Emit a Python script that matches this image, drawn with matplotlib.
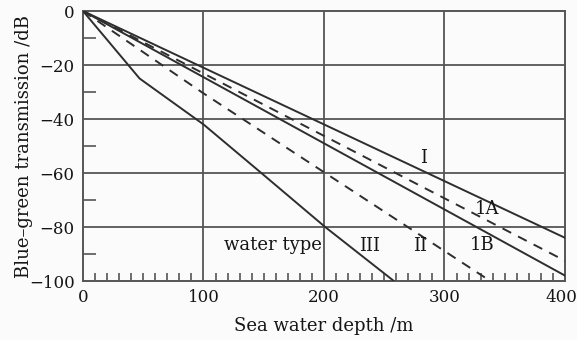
import matplotlib
matplotlib.use("Agg")
import matplotlib.pyplot as plt
import matplotlib.transforms as mtransforms
import numpy as np

# Data
depth_I = [0, 400]
db_I = [0, -84]
depth_1A = [0, 400]
db_1A = [0, -92.5]
depth_1B = [0, 400]
db_1B = [0, -98]
depth_II = [0, 100, 338]
db_II = [0, -30.5, -100]
depth_III = [0, 47, 100, 148, 201, 258]
db_III = [0, -25, -42, -60, -80, -100]

x_ticks = [0, 100, 200, 300, 400]
y_ticks = [0, -20, -40, -60, -80, -100]

labels = ["I", "1A", "1B", "II", "III", "water type"]
label_x = [283, 335, 331, 280, 238, 158]
label_y = [-54.5, -73.5, -86.7, -87.0, -87.0, -86.7]

plt.rcParams['font.family'] = ['DejaVu Serif']
bg = '#fbfbfb'
tcol = '#151515'
fig = plt.figure(figsize=(5.77, 3.40), dpi=100, facecolor=bg)
ax = fig.add_axes([0.1438, 0.1735, 0.9792 - 0.1438, 0.9676 - 0.1735])
ax.set_facecolor(bg)

ax.set_xlim(0, 400)
ax.set_ylim(-100, 0)

gcol = '#555555'
for x in x_ticks[1:-1]:
    ax.axvline(x, color=gcol, lw=1.3, zorder=1)
for y in y_ticks[1:-1]:
    ax.axhline(y, color=gcol, lw=1.3, zorder=1)

lcol = '#2e2e2e'
ax.plot(depth_I, db_I, color=lcol, lw=1.4, zorder=3)
ax.plot(depth_1A, db_1A, color=lcol, lw=1.4, ls=(0, (5, 4)), zorder=3)
ax.plot(depth_1B, db_1B, color=lcol, lw=1.4, zorder=3)
ax.plot(depth_II, db_II, color=lcol, lw=1.4, ls=(0, (5, 4)), zorder=3)
ax.plot(depth_III, db_III, color=lcol, lw=1.4, zorder=3)

for t, x, y in zip(labels, label_x, label_y):
    ax.text(x, y, t, ha='center', va='center', fontsize=13, color=tcol,
            family='DejaVu Serif', zorder=4)

for s in ax.spines.values():
    s.set_color(gcol)
    s.set_linewidth(1.4)

ax.set_xticks(x_ticks)
ax.set_yticks(y_ticks)
ax.set_xticks(np.arange(10, 400, 10), minor=True)
ax.set_yticks([-10, -30, -50, -70, -90], minor=True)
ax.tick_params(axis='both', which='major', direction='in', length=0, labelsize=12,
               labelcolor=tcol, pad=6)
ax.tick_params(axis='x', which='minor', direction='in', length=6, width=1.2, color=gcol)
ax.tick_params(axis='y', which='minor', direction='in', length=9.5, width=1.2, color=gcol)

# nudge the last x tick label slightly left so it stays inside the figure
last = ax.get_xticklabels()[-1]
last.set_transform(last.get_transform() +
                   mtransforms.ScaledTranslation(-4 / 100, 0, fig.dpi_scale_trans))

ax.set_xlabel('Sea water depth /m', fontsize=13, color=tcol, labelpad=8)
ax.set_ylabel('Blue–green transmission /dB', fontsize=13, color=tcol)
ax.yaxis.set_label_coords(-0.104, 0.5)

fig.savefig('out.png', dpi=100, facecolor=bg)
